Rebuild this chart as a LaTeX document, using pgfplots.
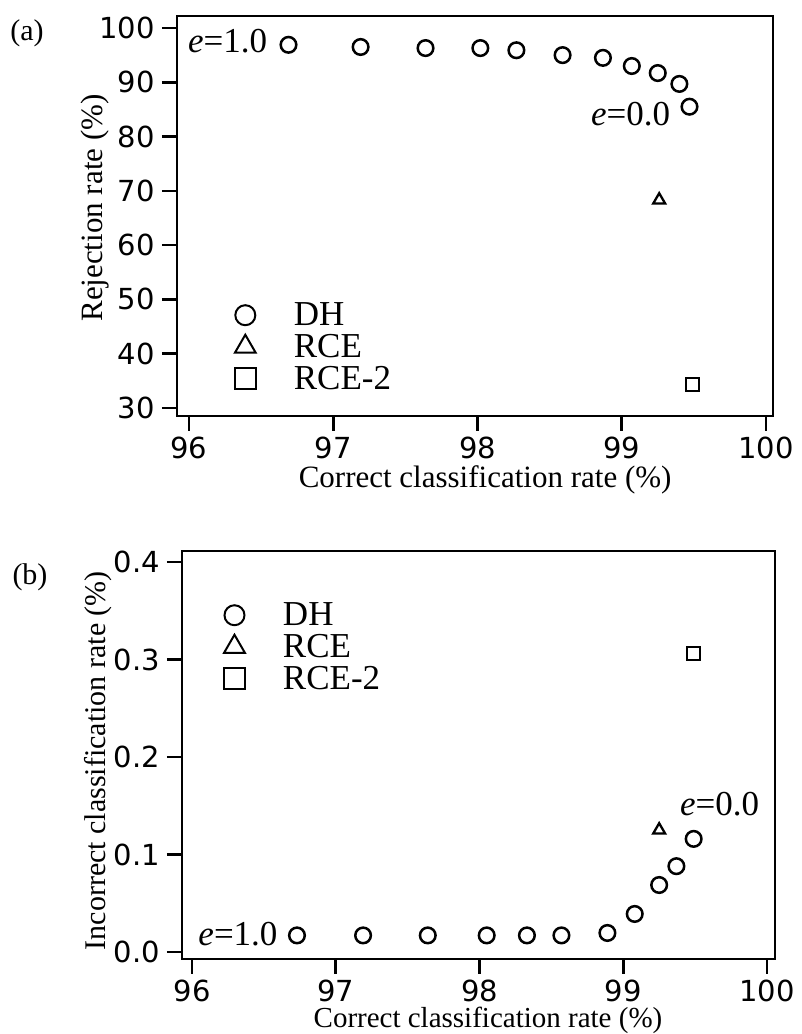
\documentclass[border=0pt]{standalone}
\usepackage{fontspec}
\setmainfont{Liberation Serif}
\newfontfamily\tickfont{DejaVu Sans}
\usepackage{pgfplots}
\pgfplotsset{compat=1.18}

\pgfplotsset{
  panel/.style={
    scale only axis, anchor=south west,
    axis line style={line width=2.6pt},
    every tick/.style={line width=2.6pt, black},
    tick align=outside,
    major tick length=15pt,
    xtick pos=left, ytick pos=left,
    xtick={96,97,98,99,100},
    tick label style={font=\tickfont\fontsize{29pt}{29pt}\selectfont, inner sep=0pt},
    yticklabel style={xshift=-7pt},
    /pgf/number format/assume math mode=true,
    label style={font=\fontsize{31pt}{31pt}\selectfont, inner sep=0pt},
    legend style={draw=none, fill=none, inner sep=0pt, outer sep=0pt,
      anchor=north west, row sep=7pt, column sep=38pt,
      font=\fontsize{35pt}{35pt}\selectfont, nodes={inner sep=0pt}},
    legend cell align=left,
    legend image code/.code={\draw[##1] plot coordinates {(0pt,0pt)};},
  },
  dh/.style={only marks, mark=o, mark size=7.8pt, line width=2.5pt, black},
  rce/.style={only marks, mark=triangle, mark size=6.9pt, line width=2.3pt, black},
  rcetwo/.style={only marks, mark=square, mark size=6.5pt, line width=2.3pt, black},
}

\begin{document}
\begin{tikzpicture}
\useasboundingbox (0,0) rectangle (802pt,1034pt);

\node[font=\fontsize{30pt}{30pt}\selectfont] at (27pt,1001pt) {(a)};
\node[font=\fontsize{30pt}{30pt}\selectfont] at (30pt,457pt) {(b)};

%% (a) rejection rate
\begin{axis}[panel,
  at={(177pt,618pt)}, width=596pt, height=400pt,
  xmin=95.917, xmax=100.049,
  ymin=28.53, ymax=102.21,
  ytick={30,40,...,100},
  xticklabel style={yshift=-6pt},
  xlabel={Correct classification rate (\%)},
  ylabel={Rejection rate (\%)},
  xlabel style={at={(axis description cs:0.517,0)}, anchor=base, yshift=-72pt},
  ylabel style={at={(axis description cs:-0.1258,0.52)}, anchor=base},
  legend style={at={(0.097,0.2825)}},
]
\addlegendimage{only marks, mark=o, mark size=10pt, line width=2pt, black}
\addlegendentry{DH}
\addlegendimage{only marks, mark=triangle, mark size=12pt, line width=2pt, black}
\addlegendentry{RCE}
\addlegendimage{only marks, mark=square, mark size=10.5pt, line width=2pt, black}
\addlegendentry{RCE-2}

\addplot[dh, forget plot] coordinates {
  (96.69,96.9) (97.19,96.5) (97.64,96.3) (98.02,96.3) (98.27,95.9)
  (98.59,95.0) (98.87,94.5) (99.07,93.0) (99.25,91.7) (99.40,89.7)
  (99.47,85.5)};
\addplot[rce, forget plot] coordinates {(99.26,68.3)};
\addplot[rcetwo, forget plot] coordinates {(99.49,34.3)};

\node[anchor=base west, font=\fontsize{35pt}{35pt}\selectfont]
  at (axis cs:95.97,95.4) {\textit{e}=1.0};
\node[anchor=base east, font=\fontsize{35pt}{35pt}\selectfont]
  at (axis cs:99.36,82.1) {\textit{e}=0.0};
\end{axis}

%% (b) incorrect classification rate
\begin{axis}[panel,
  at={(182pt,75pt)}, width=593pt, height=408pt,
  xmin=95.93, xmax=100.056,
  ymin=-0.0072, ymax=0.4113,
  ytick={0,0.1,0.2,0.3,0.4},
  xticklabel style={yshift=-6pt},
  yticklabel style={/pgf/number format/.cd, fixed, fixed zerofill, precision=1},
  xlabel={Correct classification rate (\%)},
  ylabel={Incorrect classification rate (\%)},
  xlabel style={at={(axis description cs:0.516,0)}, anchor=base, yshift=-68pt,
    font=\fontsize{29pt}{29pt}\selectfont},
  ylabel style={at={(axis description cs:-0.1298,0.486)}, anchor=base,
    font=\fontsize{30pt}{30pt}\selectfont},
  legend style={at={(0.0708,0.8725)}},
]
\addlegendimage{only marks, mark=o, mark size=10pt, line width=2pt, black}
\addlegendentry{DH}
\addlegendimage{only marks, mark=triangle, mark size=12pt, line width=2pt, black}
\addlegendentry{RCE}
\addlegendimage{only marks, mark=square, mark size=10.5pt, line width=2pt, black}
\addlegendentry{RCE-2}

\addplot[dh, forget plot] coordinates {
  (96.73,0.017) (97.19,0.017) (97.64,0.017) (98.05,0.017) (98.33,0.017)
  (98.57,0.017) (98.89,0.0195) (99.08,0.039) (99.25,0.0687) (99.37,0.088)
  (99.49,0.116)};
\addplot[rce, forget plot] coordinates {(99.25,0.125)};
\addplot[rcetwo, forget plot] coordinates {(99.49,0.306)};

\node[anchor=base west, font=\fontsize{35pt}{35pt}\selectfont]
  at (axis cs:96.02,0.007) {\textit{e}=1.0};
\node[anchor=base east, font=\fontsize{35pt}{35pt}\selectfont]
  at (axis cs:99.97,0.1405) {\textit{e}=0.0};
\end{axis}
\end{tikzpicture}
\end{document}
